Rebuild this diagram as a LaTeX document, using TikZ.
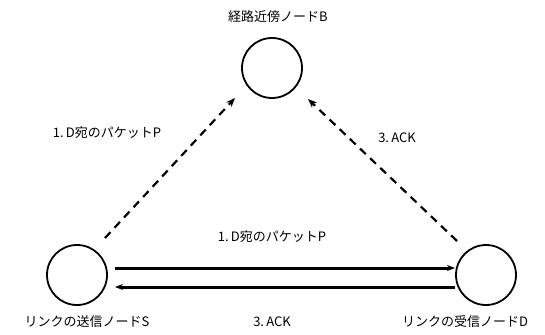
\documentclass[tikz,border=0pt]{standalone}
\usepackage{fontspec}
\setmainfont{Noto Sans CJK JP}
\usetikzlibrary{arrows.meta}
\begin{document}
\begin{tikzpicture}[x=1pt,y=-1pt,
  nodec/.style={circle,draw,line width=1.8pt,minimum size=60pt,inner sep=0pt},
  lbl/.style={font=\fontsize{13}{15}\selectfont,inner sep=0pt},
  solidarr/.style={line width=3pt,-{Stealth[length=8pt,width=6pt]}},
  dasharr/.style={line width=2.2pt,dash pattern=on 8pt off 6pt,-{Stealth[length=9pt,width=7pt]}}]
\useasboundingbox (0,0) rectangle (545,334);
\node[nodec] (B) at (272,68) {};
\node[nodec] (S) at (77,275) {};
\node[nodec] (D) at (486,275) {};
\node[lbl] (lB) at (278,17) {経路近傍ノードB};
\node[lbl] (lS) at (87,322) {リンクの送信ノードS};
\node[lbl] (lD) at (465,322) {リンクの受信ノードD};
\coordinate (s1) at (115,268);
\coordinate (d1) at (455,268);
\coordinate (d2) at (455,287);
\coordinate (s2) at (115,287);
\draw[solidarr] (s1) -- (d1);
\draw[solidarr] (d2) -- (s2);
\coordinate (sa) at (105,238);
\coordinate (ba) at (235,98);
\coordinate (da) at (457,241);
\coordinate (bb) at (308,99);
\draw[dasharr] (sa) -- (ba);
\draw[dasharr] (da) -- (bb);
\node[lbl] (l1) at (107,133) {1.\,D宛のパケットP};
\node[lbl] (l2) at (397,138) {3.\,ACK};
\node[lbl] (l3) at (272,237) {1.\,D宛のパケットP};
\node[lbl] (l4) at (272,322) {3.\,ACK};
\end{tikzpicture}
\end{document}
